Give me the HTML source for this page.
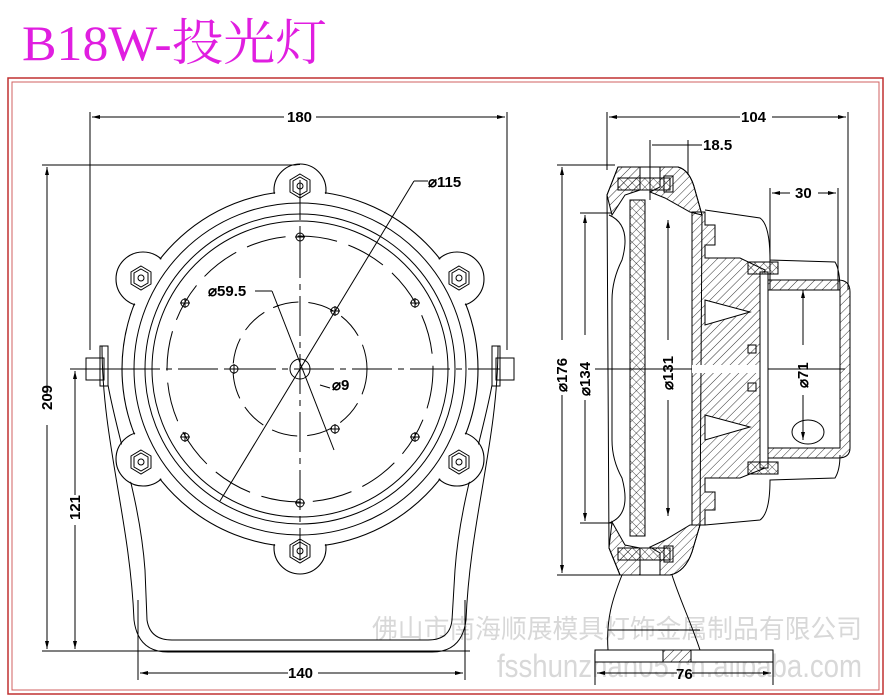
<!DOCTYPE html>
<html><head><meta charset="utf-8"><style>
html,body{margin:0;padding:0;background:#fff;}
svg{display:block;}
.t{font-family:"Liberation Sans Narrow","Liberation Sans",sans-serif;font-size:15px;font-weight:bold;fill:#000;}
</style></head><body>
<svg width="889" height="699" viewBox="0 0 889 699" xmlns="http://www.w3.org/2000/svg">
<defs>
<pattern id="h" width="6" height="6" patternUnits="userSpaceOnUse" patternTransform="rotate(45)"><line x1="0" y1="0" x2="0" y2="6" stroke="#000" stroke-width="0.8"/></pattern>
<pattern id="x" width="6" height="6" patternUnits="userSpaceOnUse" patternTransform="rotate(45)"><line x1="0" y1="0" x2="0" y2="6" stroke="#000" stroke-width="0.7"/><line x1="0" y1="0" x2="6" y2="0" stroke="#000" stroke-width="0.7"/></pattern>
<marker id="a" markerWidth="8" markerHeight="6" refX="8" refY="3" orient="auto"><path d="M0,1 L8,3 L0,5z" fill="#000"/></marker>
</defs>
<text x="22" y="60" font-family="'Liberation Serif','Noto Serif CJK SC',serif" font-size="50" fill="#e01ee0" textLength="305" lengthAdjust="spacingAndGlyphs">B18W-投光灯</text>
<rect x="8" y="78" width="875" height="616" fill="none" stroke="#c03030" stroke-width="1.5"/>
<rect x="12" y="82" width="867" height="608" fill="none" stroke="#d06060" stroke-width="1"/>
<text x="372" y="638" font-family="'Liberation Sans','Noto Sans CJK SC',sans-serif" font-size="26" fill="#d8d8d8" textLength="490" lengthAdjust="spacingAndGlyphs">佛山市南海顺展模具灯饰金属制品有限公司</text>
<text x="497" y="677" font-family="'Liberation Sans',sans-serif" font-size="32" fill="#d8d8d8" textLength="365" lengthAdjust="spacingAndGlyphs">fsshunzhan05.cn.alibaba.com</text>
<g stroke="#000" fill="none" stroke-width="1">
<!-- left dims -->
<line x1="90" y1="112" x2="90" y2="350"/><line x1="507" y1="112" x2="507" y2="350"/>
<line x1="284" y1="117" x2="92" y2="117" marker-end="url(#a)"/><line x1="316" y1="117" x2="505" y2="117" marker-end="url(#a)"/>
<line x1="42" y1="165" x2="300" y2="165"/><line x1="42" y1="651" x2="470" y2="651"/>
<line x1="47" y1="395" x2="47" y2="167" marker-end="url(#a)"/><line x1="47" y1="425" x2="47" y2="649" marker-end="url(#a)"/>
<line x1="70" y1="369" x2="300" y2="369"/>
<line x1="75" y1="495" x2="75" y2="371" marker-end="url(#a)"/><line x1="75" y1="525" x2="75" y2="649" marker-end="url(#a)"/>
<line x1="138" y1="600" x2="138" y2="680"/><line x1="465" y1="600" x2="465" y2="680"/>
<line x1="288" y1="673" x2="140" y2="673" marker-end="url(#a)"/><line x1="318" y1="673" x2="463" y2="673" marker-end="url(#a)"/>
<!-- bracket -->
<path d="M102,346 L108,346 L108,385 C118,440 140,500 145,570 L147,620 Q150,640 172,640 L428,640 Q450,640 452,620 L455,570 C460,500 482,440 492,385 L492,346 L498,346 C498,440 470,520 466,620 Q462,652 432,652 L168,652 Q138,652 134,620 C130,520 102,440 102,346Z"/>
<rect x="86" y="358" width="18" height="22"/><rect x="496" y="358" width="18" height="22"/>
<rect x="100" y="346" width="8" height="40"/><rect x="492" y="346" width="8" height="40"/>
<!-- flange union outline -->
<g stroke-width="1.1">
<circle cx="300" cy="369" r="178"/>
<circle cx="300" cy="190" r="26"/><circle cx="300" cy="548" r="26"/>
<circle cx="143" cy="279" r="27"/><circle cx="457" cy="279" r="27"/>
<circle cx="143" cy="459" r="27"/><circle cx="457" cy="459" r="27"/>
</g>
<g fill="#fff" stroke="none">
<circle cx="300" cy="369" r="177"/>
<circle cx="300" cy="190" r="25"/><circle cx="300" cy="548" r="25"/>
<circle cx="143" cy="279" r="26"/><circle cx="457" cy="279" r="26"/>
<circle cx="143" cy="459" r="26"/><circle cx="457" cy="459" r="26"/>
</g>
<circle cx="300" cy="369" r="166"/>
<circle cx="300" cy="369" r="155"/>
<circle cx="300" cy="369" r="148"/>
<circle cx="300" cy="369" r="133" stroke-dasharray="40,12"/>
<circle cx="300" cy="369" r="67" stroke-dasharray="26,10"/>
<circle cx="300" cy="369" r="10"/>
<!-- hex bolts -->
<g id="hx"><polygon points="300,174 310,180 310,192 300,198 290,192 290,180"/><polygon points="300,177 307,181 307,191 300,195 293,191 293,181"/><circle cx="300" cy="186" r="3"/></g>
<use href="#hx" transform="translate(0,365)"/>
<use href="#hx" transform="translate(-159,92)"/><use href="#hx" transform="translate(159,92)"/>
<use href="#hx" transform="translate(-159,276)"/><use href="#hx" transform="translate(159,276)"/>
<!-- center lines -->
<line x1="300" y1="180" x2="300" y2="560" stroke-dasharray="40,6,6,6"/>
<line x1="120" y1="369" x2="500" y2="369" stroke-dasharray="40,6,6,6"/>
<line x1="414" y1="181" x2="220" y2="501"/>
<line x1="272" y1="291" x2="334" y2="450"/>
<line x1="428" y1="181" x2="414" y2="181"/>
<line x1="255" y1="291" x2="272" y2="291"/>
<line x1="320" y1="385" x2="330" y2="388"/>
<!-- small holes -->
<g id="ho"><circle cx="300" cy="237" r="4"/><line x1="295" y1="237" x2="305" y2="237"/><line x1="300" y1="232" x2="300" y2="242"/></g>
<use href="#ho" transform="translate(0,266)"/>
<use href="#ho" transform="translate(-115,66)"/><use href="#ho" transform="translate(115,66)"/>
<use href="#ho" transform="translate(-115,200)"/><use href="#ho" transform="translate(115,200)"/>
<use href="#ho" transform="translate(-66,132)"/>
<use href="#ho" transform="translate(35,74)"/><use href="#ho" transform="translate(35,192)"/>
<!-- right view dims -->
<line x1="607" y1="112" x2="607" y2="170"/><line x1="848" y1="112" x2="848" y2="290"/>
<line x1="740" y1="117" x2="609" y2="117" marker-end="url(#a)"/><line x1="772" y1="117" x2="846" y2="117" marker-end="url(#a)"/>
<line x1="650" y1="140" x2="650" y2="200"/><line x1="688" y1="140" x2="688" y2="175"/>
<line x1="652" y1="145" x2="686" y2="145"/><line x1="686" y1="145" x2="702" y2="145"/>
<line x1="770" y1="188" x2="770" y2="290"/><line x1="838" y1="188" x2="838" y2="290"/>
<line x1="790" y1="193" x2="772" y2="193" marker-end="url(#a)"/><line x1="818" y1="193" x2="836" y2="193" marker-end="url(#a)"/>
<line x1="557" y1="165" x2="615" y2="165"/><line x1="557" y1="575" x2="620" y2="575"/>
<line x1="562" y1="340" x2="562" y2="167" marker-end="url(#a)"/><line x1="562" y1="395" x2="562" y2="573" marker-end="url(#a)"/>
<line x1="580" y1="213" x2="612" y2="213"/><line x1="580" y1="523" x2="612" y2="523"/>
<line x1="585" y1="335" x2="585" y2="215" marker-end="url(#a)"/><line x1="585" y1="400" x2="585" y2="521" marker-end="url(#a)"/>
<line x1="668" y1="340" x2="668" y2="220" marker-end="url(#a)"/><line x1="668" y1="400" x2="668" y2="516" marker-end="url(#a)"/>
<line x1="803" y1="345" x2="803" y2="290" marker-end="url(#a)"/><line x1="803" y1="395" x2="803" y2="440" marker-end="url(#a)"/>
<line x1="595" y1="369" x2="845" y2="369"/>
<!-- bezel -->
<path d="M618,167 L678,167 Q690,170 695,190 L702,215 L700,525 L692,552 Q685,572 670,575 L620,575 L609,548 L607,195Z"/>
<path d="M609,215 Q632,225 622,260 Q612,280 612,300 L612,440 Q612,460 622,478 Q632,515 609,523"/>
<rect x="630" y="200" width="15" height="336" fill="url(#x)"/>
<path d="M618,167 L640,167 L640,190 L625,195 L612,215 L607,195Z" fill="url(#h)"/>
<path d="M620,575 L640,575 L640,548 L625,545 L612,522 L609,548Z" fill="url(#h)"/>
<path d="M660,167 L678,167 Q690,170 695,190 L702,215 L690,212 L665,198 L650,192 L660,187Z" fill="url(#h)"/>
<path d="M660,575 L670,575 Q685,572 692,552 L700,525 L690,525 L665,540 L650,547 L660,553Z" fill="url(#h)"/>
<rect x="618" y="178" width="52" height="12" fill="url(#x)"/><rect x="618" y="548" width="52" height="12" fill="url(#x)"/>
<rect x="664" y="176" width="9" height="16"/><rect x="664" y="546" width="9" height="16"/>
<!-- body -->
<path d="M692,212 L705,212 L705,225 L715,225 L715,245 L705,245 L705,258 L740,258 L765,270 L765,468 L740,478 L705,478 L705,492 L715,492 L715,510 L705,510 L705,525 L692,525Z" fill="url(#h)"/>
<path d="M705,300 L750,312 L705,325Z M705,415 L750,427 L705,440Z" fill="#fff"/>
<rect x="692" y="365" width="70" height="8" fill="#fff" stroke="none"/>
<path d="M705,210 L760,218 Q770,225 770,260 L835,262 Q840,270 840,290"/>
<path d="M705,525 L760,520 Q770,513 770,480 L835,478 Q840,470 840,455"/>
<!-- back cover -->
<path d="M765,280 L838,280 Q850,280 850,292 L850,448 Q850,458 838,458 L765,458 L765,448 L840,448 L840,290 L765,290Z" fill="url(#h)"/>
<rect x="760" y="272" width="8" height="196" fill="#fff"/>
<rect x="748" y="262" width="30" height="12" fill="url(#x)"/><rect x="748" y="462" width="30" height="12" fill="url(#x)"/>
<ellipse cx="808" cy="432" rx="16" ry="12"/>
<rect x="748" y="345" width="8" height="8"/><rect x="748" y="383" width="8" height="8"/>
<!-- stand -->
<path d="M622,575 C612,600 606,620 608,650"/><path d="M672,575 C680,600 690,620 700,650"/>
<line x1="608" y1="630" x2="700" y2="630"/>
<rect x="595" y="650" width="178" height="12" fill="#fff"/>
<rect x="663" y="650" width="28" height="12" fill="url(#h)"/>
<line x1="595" y1="662" x2="595" y2="685"/><line x1="773" y1="662" x2="773" y2="685"/>
<line x1="677" y1="673" x2="597" y2="673" marker-end="url(#a)"/><line x1="692" y1="673" x2="771" y2="673" marker-end="url(#a)"/>
</g>
<g class="t">
<text x="287" y="122">180</text>
<text x="741" y="122">104</text>
<text x="703" y="150">18.5</text>
<text x="795" y="198">30</text>
<text x="288" y="678">140</text>
<text x="676" y="679">76</text>
<text x="428" y="187">⌀115</text>
<text x="208" y="296">⌀59.5</text>
<text x="332" y="390">⌀9</text>
<text transform="translate(52,410) rotate(-90)">209</text>
<text transform="translate(80,520) rotate(-90)">121</text>
<text transform="translate(567,392) rotate(-90)">⌀176</text>
<text transform="translate(590,396) rotate(-90)">⌀134</text>
<text transform="translate(673,390) rotate(-90)">⌀131</text>
<text transform="translate(808,388) rotate(-90)">⌀71</text>
</g>
</svg>
</body></html>
